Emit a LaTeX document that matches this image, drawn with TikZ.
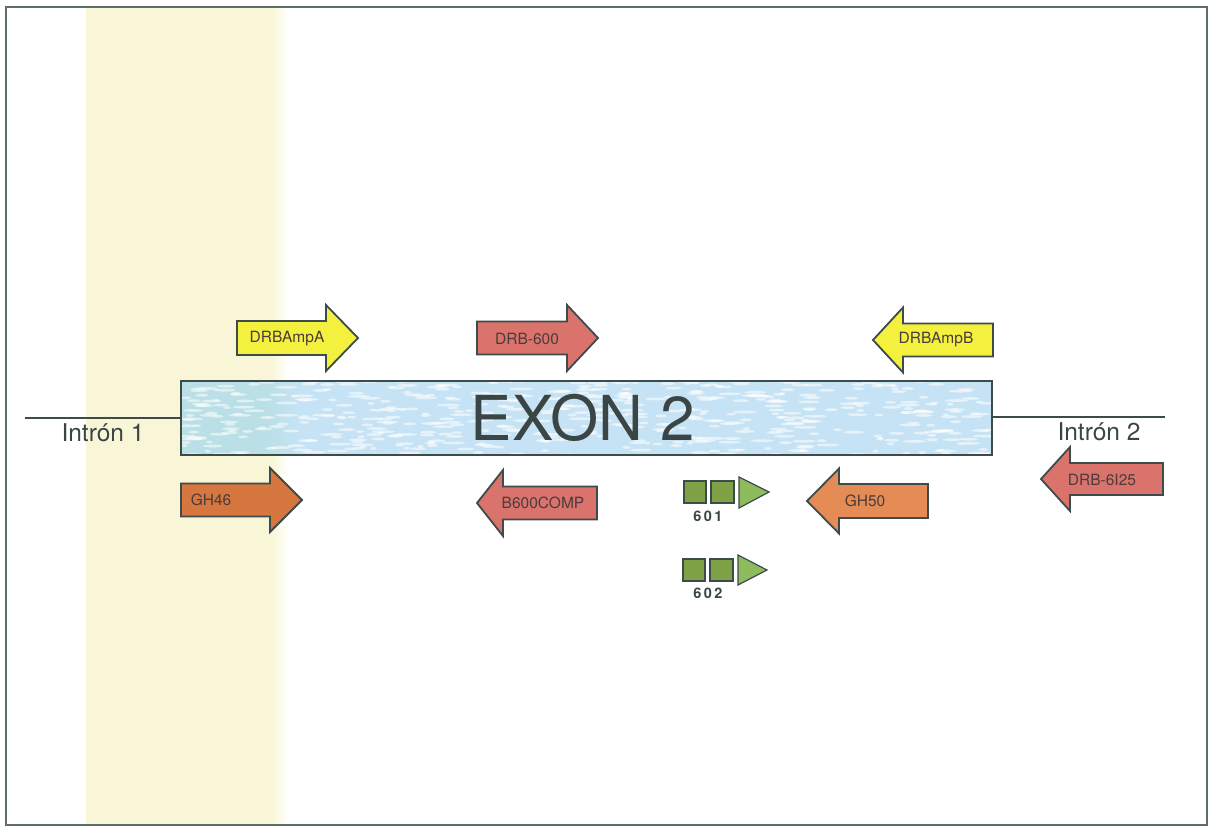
\documentclass[tikz,border=0pt]{standalone}
\usepackage{fontspec}
\setmainfont{TeX Gyre Heros}
\definecolor{bandyellow}{HTML}{F8F6D6}
\definecolor{framegray}{HTML}{5E6C6C}
\definecolor{outl}{HTML}{3E4B4B}
\definecolor{exonblue}{HTML}{C6E3F5}
\definecolor{exonteal}{HTML}{BADFE6}
\definecolor{txtdark}{HTML}{3A4646}
\definecolor{lbltxt}{HTML}{4A3C3C}
\definecolor{arrYellow}{HTML}{F3F03E}
\definecolor{arrRed}{HTML}{D9736C}
\definecolor{arrOrangeA}{HTML}{D6773F}
\definecolor{arrOrangeB}{HTML}{E48B56}
\definecolor{sqGreen}{HTML}{80A247}
\definecolor{triGreen}{HTML}{8EBC5D}
\newcommand\blockarrow[7]{%
  \draw[arrowline, fill=#7] (#1,#4-#5) -- (#2,#4-#5) -- (#2,#4-#6) -- (#3,#4)
    -- (#2,#4+#6) -- (#2,#4+#5) -- (#1,#4+#5) -- cycle;}
\tikzset{
  arrowline/.style={draw=outl, line width=1.8pt, line join=miter},
  lbl/.style={text=lbltxt, font=\fontsize{15.5}{16}\selectfont, inner sep=0pt},
  introntxt/.style={text=txtdark, font=\fontsize{24.5}{25}\selectfont, inner sep=0pt},
  intronline/.style={draw=outl, line width=1.6pt},
  exonbox/.style={draw=outl, line width=1.8pt, minimum width=811pt, minimum height=74pt, inner sep=0pt},
  sqbox/.style={draw=outl, line width=1.2pt, fill=sqGreen},
  tribox/.style={draw=outl, line width=1.2pt, fill=triGreen, line join=miter},
  numtxt/.style={text=txtdark, font=\bfseries\fontsize{14.5}{15}\selectfont, inner sep=0pt},
}
\begin{document}
\begin{tikzpicture}[x=1pt,y=-1pt]
\useasboundingbox (0,0) rectangle (1210,826);
\fill[white] (0,0) rectangle (1210,826);
% yellow band
\fill[bandyellow] (86,8) rectangle (272,825);
\shade[left color=bandyellow, right color=white] (271,8) rectangle (288,825);
% frame
\draw[framegray, line width=1.6pt] (6,7) rectangle (1207,825);
% exon
\node[exonbox, fill=exonblue] (exon) at (586.5,418) {};
\begin{scope}
  \clip (181,381) rectangle (992,455);
  \fill[exonteal] (181,381) rectangle (265,455);
  \shade[left color=exonteal, right color=exonblue] (264,381) rectangle (300,455);
  \pgfmathsetseed{11}
  \foreach \i in {1,...,520} {
    \pgfmathsetmacro\xx{181+811*rnd}
    \pgfmathsetmacro\yy{381+74*rnd}
    \pgfmathsetmacro\ww{3+9*rnd}
    \fill[white, opacity=0.55] (\xx,\yy) ellipse ({\ww} and 1.4);
  }
\end{scope}
\node[exonbox] (exonframe) at (586.5,418) {};
\node[text=txtdark, font=\fontsize{62}{62}\selectfont, inner sep=0pt] (exonlbl) at (583,418) {EXON 2};
% introns
\coordinate (i1end) at (25,418);
\coordinate (i2end) at (1165,417);
\draw[intronline] (i1end) -- (exonframe.west |- i1end);
\draw[intronline] (exonframe.east |- i2end) -- (i2end);
\node[introntxt] (intron1) at (103,433) {Intrón 1};
\node[introntxt] (intron2) at (1099,432) {Intrón 2};
% arrows
\blockarrow{237}{326}{358}{338}{17}{33}{arrYellow}
\node[lbl] (drbampa) at (287,339) {DRBAmpA};
\blockarrow{477}{567}{598}{338}{16.5}{33}{arrRed}
\node[lbl] (drb600) at (527,339) {DRB-600};
\blockarrow{993}{903}{873}{340}{16.5}{32.5}{arrYellow}
\node[lbl] (drbampb) at (936,340) {DRBAmpB};
\blockarrow{181}{270}{302}{500}{16.5}{32}{arrOrangeA}
\node[lbl] (gh46) at (211,500) {GH46};
\blockarrow{597}{503}{477}{503}{16.5}{33}{arrRed}
\node[lbl] (b600comp) at (543,503) {B600COMP};
\blockarrow{928}{839}{807}{501}{17}{32.5}{arrOrangeB}
\node[lbl] (gh50) at (865,501) {GH50};
\blockarrow{1163}{1070}{1041}{479}{16}{32}{arrRed}
\node[lbl] (drb6i25) at (1102,480) {DRB-6I25};
% green markers 601
\draw[sqbox] (684,481) rectangle (706,503);
\draw[sqbox] (711,481) rectangle (734,503);
\draw[tribox] (739,477) -- (769,492) -- (739,508) -- cycle;
\node[numtxt] (m601) at (708,516) {6\,0\,1};
% green markers 602
\draw[sqbox] (683,559) rectangle (705,581);
\draw[sqbox] (710,559) rectangle (733,581);
\draw[tribox] (738,555) -- (767,570) -- (738,585) -- cycle;
\node[numtxt] (m602) at (708,593) {6\,0\,2};
\end{tikzpicture}
\end{document}
